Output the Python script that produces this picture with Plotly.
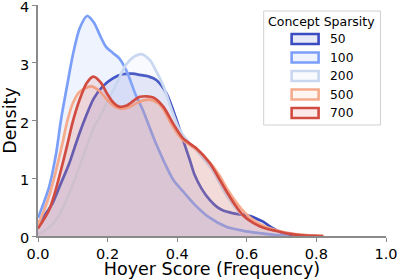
import plotly.graph_objects as go

# ---- data ----
labels = ["50", "100", "200", "500", "700"]
colors = ["#3b4cc0", "#7b9ff9", "#c9d7f0", "#f5aa8c", "#d24b40"]

x_50 = [0, 0.02, 0.042, 0.065, 0.09, 0.11, 0.133, 0.16, 0.186, 0.215, 0.243, 0.272, 0.293, 0.319, 0.34, 0.369, 0.398, 0.417, 0.436, 0.45, 0.47, 0.494, 0.515, 0.532, 0.556, 0.58, 0.6, 0.618, 0.635, 0.647, 0.665, 0.685, 0.71, 0.75]
y_50 = [0.22, 0.37, 0.57, 0.9, 1.26, 1.62, 2.0, 2.38, 2.59, 2.73, 2.80, 2.81, 2.79, 2.76, 2.70, 2.47, 2.01, 1.66, 1.32, 1.06, 0.82, 0.62, 0.5, 0.44, 0.4, 0.375, 0.36, 0.33, 0.28, 0.25, 0.17, 0.10, 0.04, 0.0]

x_100 = [0, 0.015, 0.032, 0.052, 0.066, 0.085, 0.1, 0.12, 0.141, 0.16, 0.18, 0.195, 0.215, 0.233, 0.255, 0.281, 0.3, 0.331, 0.35, 0.369, 0.39, 0.42, 0.446, 0.49, 0.541, 0.59, 0.637, 0.68, 0.72]
y_100 = [0.31, 0.55, 0.85, 1.43, 2.01, 2.65, 3.13, 3.6, 3.81, 3.7, 3.45, 3.28, 3.17, 3.08, 2.85, 2.44, 2.2, 1.72, 1.45, 1.2, 0.96, 0.75, 0.57, 0.33, 0.16, 0.09, 0.05, 0.02, 0.0]

x_200 = [0, 0.013, 0.03, 0.052, 0.08, 0.11, 0.14, 0.166, 0.176, 0.195, 0.214, 0.235, 0.252, 0.275, 0.296, 0.321, 0.34, 0.36, 0.388, 0.407, 0.436, 0.46, 0.5, 0.54, 0.58, 0.62, 0.66, 0.70, 0.75, 0.8]
y_200 = [0.03, 0.07, 0.14, 0.28, 0.6, 1.05, 1.55, 1.95, 2.04, 2.28, 2.50, 2.76, 2.96, 3.1, 3.15, 3.05, 2.85, 2.6, 2.12, 1.84, 1.6, 1.45, 1.15, 0.72, 0.4, 0.22, 0.13, 0.07, 0.02, 0.0]

x_500 = [0, 0.018, 0.035, 0.052, 0.07, 0.085, 0.1, 0.12, 0.152, 0.175, 0.2, 0.22, 0.24, 0.265, 0.29, 0.32, 0.345, 0.36, 0.385, 0.41, 0.435, 0.46, 0.49, 0.52, 0.545, 0.57, 0.595, 0.62, 0.65, 0.69, 0.73, 0.78, 0.82]
y_500 = [0.2, 0.45, 0.75, 1.14, 1.6, 2.01, 2.3, 2.5, 2.59, 2.52, 2.35, 2.24, 2.2, 2.24, 2.32, 2.36, 2.3, 2.2, 1.92, 1.7, 1.58, 1.48, 1.3, 1.06, 0.8, 0.58, 0.4, 0.27, 0.17, 0.09, 0.04, 0.01, 0.0]

x_700 = [0, 0.015, 0.032, 0.05, 0.066, 0.085, 0.1, 0.119, 0.14, 0.159, 0.18, 0.2, 0.215, 0.233, 0.255, 0.293, 0.331, 0.36, 0.388, 0.417, 0.455, 0.494, 0.517, 0.541, 0.565, 0.589, 0.615, 0.637, 0.66, 0.685, 0.72, 0.76, 0.82]
y_700 = [0.13, 0.27, 0.45, 0.78, 1.14, 1.6, 1.98, 2.35, 2.65, 2.76, 2.66, 2.45, 2.32, 2.24, 2.26, 2.41, 2.40, 2.24, 1.95, 1.69, 1.52, 1.26, 1.03, 0.78, 0.55, 0.36, 0.24, 0.17, 0.12, 0.087, 0.04, 0.01, 0.0]

series_x = [x_50, x_100, x_200, x_500, x_700]
series_y = [y_50, y_100, y_200, y_500, y_700]

x_ticks = [0.0, 0.2, 0.4, 0.6, 0.8, 1.0]
x_tick_text = ["0.0", "0.2", "0.4", "0.6", "0.8", "1.0"]
y_ticks = [0, 1, 2, 3, 4]


def rgba(hex_color, a):
    h = hex_color.lstrip("#")
    r, g, b = int(h[0:2], 16), int(h[2:4], 16), int(h[4:6], 16)
    return f"rgba({r},{g},{b},{a})"


FONT = "DejaVu Sans"
fig = go.Figure()
for lab, col, xs, ys in zip(labels, colors, series_x, series_y):
    fig.add_trace(go.Scatter(
        x=xs, y=ys, name=lab, mode="lines",
        line=dict(color=col, width=2.7, shape="spline", smoothing=0.8),
        fill="tozeroy", fillcolor=rgba(col, 0.12),
        showlegend=False, cliponaxis=True,
    ))

# ---- manual legend (matplotlib style) ----
lx0, lx1, ly0, ly1 = 0.6485, 0.984, 0.4805, 0.974
shapes = [dict(type="rect", xref="paper", yref="paper", x0=lx0, x1=lx1, y0=ly0, y1=ly1,
               line=dict(color="#d0d0d0", width=1), fillcolor="rgba(255,255,255,0.85)", layer="above")]
annotations = [dict(text="Concept Sparsity", xref="paper", yref="paper", x=0.816, y=0.9307,
                    showarrow=False, xanchor="center", yanchor="middle",
                    font=dict(family=FONT, size=12.5, color="#000000"))]
entry_y0 = 0.8528
entry_step = 0.0801
for i, (lab, col) in enumerate(zip(labels, colors)):
    yc = entry_y0 - i * entry_step
    shapes.append(dict(type="rect", xref="paper", yref="paper",
                       x0=(292 - 38) / 348.5, x1=(319 - 38) / 348.5,
                       y0=yc - 0.0216, y1=yc + 0.0216,
                       line=dict(color=col, width=2.6), fillcolor=rgba(col, 0.12), layer="above"))
    annotations.append(dict(text=lab, xref="paper", yref="paper", x=0.832, y=yc,
                            showarrow=False, xanchor="left", yanchor="middle",
                            font=dict(family=FONT, size=12.3, color="#000000")))

fig.update_layout(
    width=399, height=279,
    margin=dict(l=38, r=12.5, t=5, b=43, autoexpand=False),
    paper_bgcolor="white", plot_bgcolor="white",
    font=dict(family=FONT, color="#000000"),
    shapes=shapes, annotations=annotations,
    xaxis=dict(range=[0, 1], tickvals=x_ticks, ticktext=x_tick_text, automargin=False,
               showgrid=False, zeroline=False, showline=True, linecolor="#8a8a8a", linewidth=1.5,
               ticks="outside", ticklen=4, tickwidth=1.2, tickcolor="#8a8a8a",
               ticklabeloverflow="allow",
               tickfont=dict(family=FONT, size=14.5, color="#000000"),
               title=dict(text="Hoyer Score (Frequency)", font=dict(family=FONT, size=17.5), standoff=3)),
    yaxis=dict(range=[0, 4], tickvals=y_ticks, automargin=False,
               showgrid=False, zeroline=False, showline=True, linecolor="#8a8a8a", linewidth=1.5,
               ticks="outside", ticklen=4, tickwidth=1.2, tickcolor="#8a8a8a",
               ticklabeloverflow="allow", ticklabelshift=2,
               tickfont=dict(family=FONT, size=14.5, color="#000000"),
               title=dict(text="Density", font=dict(family=FONT, size=17.5), standoff=4)),
)

fig.write_html("out.html", config={"displayModeBar": False},
               post_script="document.body.style.margin='0px';")
